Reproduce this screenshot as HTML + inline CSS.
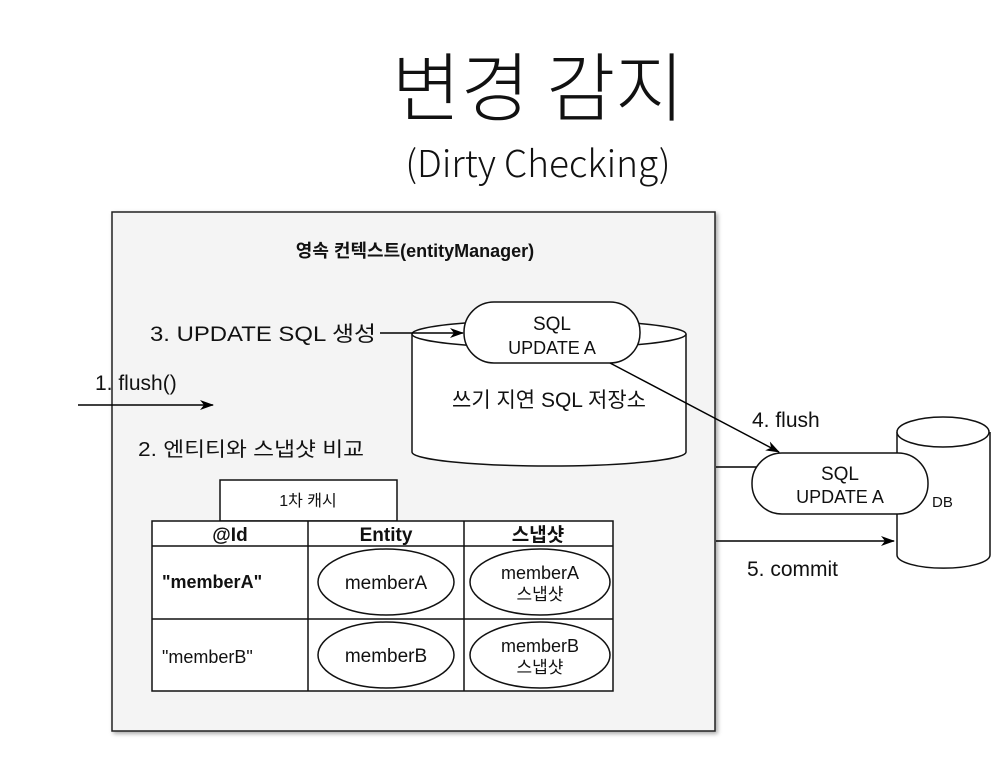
<!DOCTYPE html>
<html><head><meta charset="utf-8"><style>
html,body{margin:0;padding:0;background:#fff;}
svg{display:block;}
text{font-family:"Liberation Sans","Noto Sans CJK KR",sans-serif;fill:#111;}
text.k{font-family:"Noto Sans CJK KR",sans-serif;font-weight:300;}
</style></head><body>
<svg width="1001" height="762" viewBox="0 0 1001 762" xmlns="http://www.w3.org/2000/svg">
<defs>
<marker id="ar" markerWidth="14" markerHeight="10" refX="13" refY="5" orient="auto" markerUnits="userSpaceOnUse">
<path d="M0,0 L14,5 L0,10 L4,5 Z" fill="#000"/></marker>
<filter id="sh" x="-5%" y="-5%" width="110%" height="110%"><feDropShadow dx="2" dy="2" stdDeviation="2" flood-opacity="0.35"/></filter>
</defs>
<text class="k" x="538" y="115" font-size="75" text-anchor="middle">변경 감지</text>
<text class="k" x="538" y="177" font-size="37" text-anchor="middle">(Dirty Checking)</text>

<rect x="112" y="212" width="603" height="519" fill="#f4f4f4" stroke="#222" stroke-width="1.5" filter="url(#sh)"/>
<text x="415" y="257" font-size="18" font-weight="bold" text-anchor="middle">영속 컨텍스트(entityManager)</text>

<path d="M412,334 L412,452 A137,14 0 0 0 686,452 L686,334" fill="#fff" stroke="#111" stroke-width="1.5"/>
<ellipse cx="549" cy="334" rx="137" ry="14" fill="#fff" stroke="#111" stroke-width="1.5"/>
<text x="549" y="407" font-size="21" text-anchor="middle">쓰기 지연 SQL 저장소</text>
<rect x="464" y="302" width="176" height="61" rx="30" fill="#fff" stroke="#111" stroke-width="1.5"/>
<text x="552" y="330" font-size="19" text-anchor="middle">SQL</text>
<text x="552" y="354" font-size="18" text-anchor="middle">UPDATE A</text>

<text x="150" y="341" font-size="21" textLength="226" lengthAdjust="spacingAndGlyphs">3. UPDATE SQL 생성</text>
<line x1="380" y1="333" x2="463" y2="333" stroke="#000" stroke-width="1.5" marker-end="url(#ar)"/>

<text x="95" y="390" font-size="21">1. flush()</text>
<line x1="78" y1="405" x2="213" y2="405" stroke="#000" stroke-width="1.5" marker-end="url(#ar)"/>
<text x="138" y="456" font-size="20" textLength="226" lengthAdjust="spacingAndGlyphs">2. 엔티티와 스냅샷 비교</text>

<rect x="220" y="480" width="177" height="41" fill="#fff" stroke="#111" stroke-width="1.5"/>
<text x="308" y="506" font-size="16" text-anchor="middle">1차 캐시</text>
<rect x="152" y="521" width="461" height="170" fill="#fff" stroke="#111" stroke-width="1.5"/>
<line x1="308" y1="521" x2="308" y2="691" stroke="#111" stroke-width="1.5"/>
<line x1="464" y1="521" x2="464" y2="691" stroke="#111" stroke-width="1.5"/>
<line x1="152" y1="546" x2="613" y2="546" stroke="#111" stroke-width="1.5"/>
<line x1="152" y1="619" x2="613" y2="619" stroke="#111" stroke-width="1.5"/>
<text x="230" y="541" font-size="19" font-weight="bold" text-anchor="middle">@Id</text>
<text x="386" y="541" font-size="19" font-weight="bold" text-anchor="middle">Entity</text>
<text x="538" y="541" font-size="19" font-weight="bold" text-anchor="middle">스냅샷</text>
<text x="162" y="588" font-size="18" font-weight="bold">"memberA"</text>
<text x="162" y="663" font-size="18">"memberB"</text>
<ellipse cx="386" cy="582" rx="68" ry="33" fill="#fff" stroke="#111" stroke-width="1.5"/>
<text x="386" y="589" font-size="19" text-anchor="middle">memberA</text>
<ellipse cx="386" cy="655" rx="68" ry="33" fill="#fff" stroke="#111" stroke-width="1.5"/>
<text x="386" y="662" font-size="19" text-anchor="middle">memberB</text>
<ellipse cx="540" cy="582" rx="70" ry="33" fill="#fff" stroke="#111" stroke-width="1.5"/>
<text x="540" y="579" font-size="18" text-anchor="middle">memberA</text>
<text x="540" y="600" font-size="17" text-anchor="middle">스냅샷</text>
<ellipse cx="540" cy="655" rx="70" ry="33" fill="#fff" stroke="#111" stroke-width="1.5"/>
<text x="540" y="652" font-size="18" text-anchor="middle">memberB</text>
<text x="540" y="673" font-size="17" text-anchor="middle">스냅샷</text>

<path d="M897,432 L897,555 A46,13 0 0 0 990,555 L990,432" fill="#fff" stroke="#111" stroke-width="1.5"/>
<ellipse cx="943" cy="432" rx="46" ry="15" fill="#fff" stroke="#111" stroke-width="1.5"/>
<text x="932" y="507" font-size="15">DB</text>
<line x1="716" y1="467" x2="760" y2="467" stroke="#000" stroke-width="1.5"/>
<rect x="752" y="453" width="176" height="61" rx="30" fill="#fff" stroke="#111" stroke-width="1.5"/>
<text x="840" y="480" font-size="19" text-anchor="middle">SQL</text>
<text x="840" y="503" font-size="18" text-anchor="middle">UPDATE A</text>
<line x1="610" y1="363" x2="779" y2="452" stroke="#000" stroke-width="1.5" marker-end="url(#ar)"/>
<text x="752" y="427" font-size="21">4. flush</text>
<line x1="716" y1="541" x2="894" y2="541" stroke="#000" stroke-width="1.5" marker-end="url(#ar)"/>
<text x="747" y="576" font-size="21">5. commit</text>
</svg>
</body></html>
